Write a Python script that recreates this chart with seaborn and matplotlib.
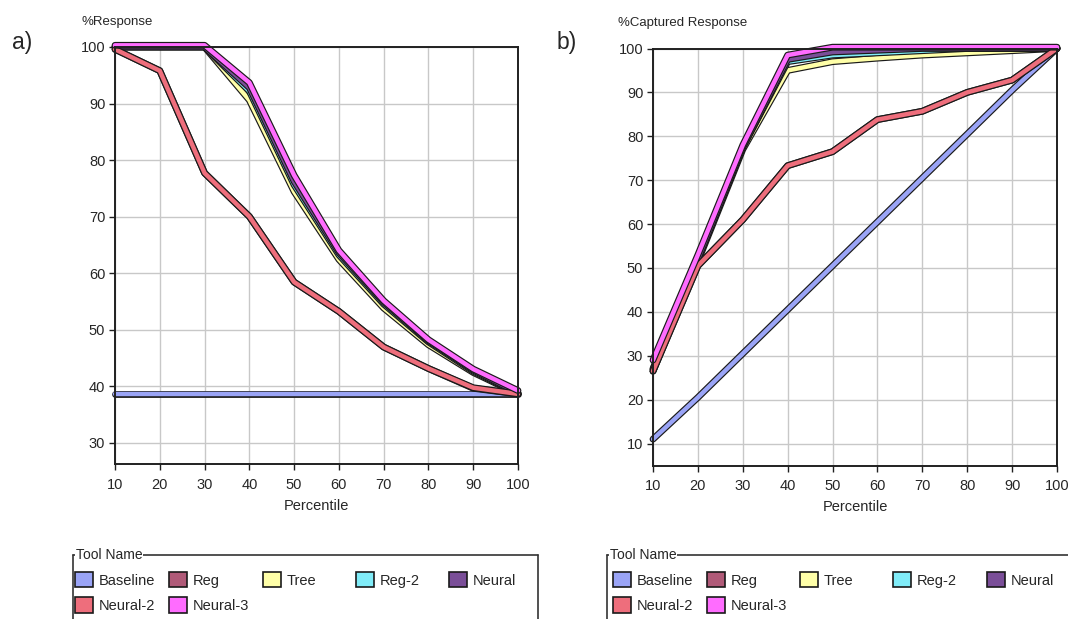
import pandas as pd
import matplotlib
matplotlib.use("Agg")
from matplotlib import pyplot as plt
import matplotlib.patheffects as pe
from matplotlib.patches import Patch
from matplotlib.lines import Line2D
import seaborn as sns

percentile = [10, 20, 30, 40, 50, 60, 70, 80, 90, 100]
tools = ['Baseline', 'Reg', 'Tree', 'Reg-2', 'Neural', 'Neural-2', 'Neural-3']
tool_colors = ['#9AA4F6', '#B05A78', '#FFFFA8', '#80ECF8', '#7A4E98', '#EE6E7C', '#FF6CFF']

# a) %Response
resp_baseline = [38.6, 38.6, 38.6, 38.6, 38.6, 38.6, 38.6, 38.6, 38.6, 38.6]
resp_reg = [99.6, 95.8, 77.7, 70.0, 58.4, 53.2, 46.9, 43.1, 39.6, 38.6]
resp_tree = [100.0, 100.0, 100.0, 90.6, 74.4, 62.4, 53.8, 47.3, 42.4, 38.6]
resp_reg2 = [100.0, 100.0, 100.0, 92.2, 75.6, 63.2, 54.5, 47.8, 42.6, 38.7]
resp_neural = [100.0, 100.0, 100.0, 92.8, 76.2, 63.6, 54.8, 48.0, 42.8, 38.8]
resp_neural2 = [99.6, 95.8, 77.7, 70.0, 58.4, 53.2, 46.9, 43.1, 39.7, 38.6]
resp_neural3 = [100.3, 100.3, 100.3, 93.7, 77.3, 64.0, 55.1, 48.2, 43.0, 39.2]

# b) %Captured Response
capt_baseline = [11.0, 20.5, 30.5, 40.5, 50.5, 60.5, 70.5, 80.5, 90.5, 100.0]
capt_reg = [26.5, 50.5, 61.0, 73.3, 76.5, 83.8, 85.7, 90.0, 92.8, 100.0]
capt_tree = [26.5, 51.5, 77.0, 95.0, 97.0, 97.8, 98.5, 99.0, 99.5, 100.0]
capt_reg2 = [27.0, 52.0, 77.5, 97.0, 98.5, 99.0, 99.5, 100.0, 100.0, 100.0]
capt_neural = [27.0, 52.0, 77.5, 97.5, 99.2, 99.6, 100.0, 100.0, 100.0, 100.0]
capt_neural2 = [26.5, 50.5, 61.0, 73.3, 76.5, 83.8, 85.7, 90.0, 92.8, 100.0]
capt_neural3 = [29.0, 53.0, 78.0, 98.5, 100.3, 100.3, 100.3, 100.3, 100.3, 100.3]


def long_table(series):
    rows = []
    for name, vals in zip(tools, series):
        for p, v in zip(percentile, vals):
            rows.append({'Percentile': p, 'value': v, 'Tool Name': name})
    return pd.DataFrame(rows)


df_resp = long_table([resp_baseline, resp_reg, resp_tree, resp_reg2,
                      resp_neural, resp_neural2, resp_neural3])
df_capt = long_table([capt_baseline, capt_reg, capt_tree, capt_reg2,
                      capt_neural, capt_neural2, capt_neural3])

sns.set_style('white')
plt.rcParams['font.family'] = ['Liberation Sans', 'DejaVu Sans']

W, H = 1068, 619
fig = plt.figure(figsize=(W / 100, H / 100), dpi=100)


def px_axes(x0, y0, x1, y1):
    return fig.add_axes([x0 / W, 1 - y1 / H, (x1 - x0) / W, (y1 - y0) / H])


ax_a = px_axes(115, 47, 518, 464)
ax_b = px_axes(653, 48.5, 1057, 465.5)

outline = [pe.Stroke(linewidth=4.9, foreground='#1a1a1a'), pe.Normal()]

for ax, data, ylim, yticks in [(ax_a, df_resp, (26.2, 100), range(30, 101, 10)),
                               (ax_b, df_capt, (5, 100), range(10, 101, 10))]:
    sns.lineplot(data=data, x='Percentile', y='value', hue='Tool Name',
                 hue_order=tools, palette=tool_colors, linewidth=3.2,
                 path_effects=outline, clip_on=False, legend=False,
                 errorbar=None, sort=False, ax=ax)
    ax.set_xlim(10, 100)
    ax.set_ylim(*ylim)
    ax.set_xticks(percentile)
    ax.set_yticks(list(yticks))
    ax.grid(True, color='#c8c8c8', linewidth=1)
    ax.set_axisbelow(True)
    for s in ax.spines.values():
        s.set_color('#202020')
        s.set_linewidth(1.4)
    ax.tick_params(axis='both', direction='out', length=4, width=1,
                   color='#202020', labelsize=10.5, bottom=True, left=True)
    ax.tick_params(axis='x', pad=6)
    ax.tick_params(axis='y', pad=3)
    ax.set_xlabel('Percentile', fontsize=10.5, labelpad=5)
    ax.set_ylabel('')

fig.text(82 / W, 1 - 22 / H, '%Response', fontsize=9.5, va='center', ha='left')
fig.text(618 / W, 1 - 23 / H, '%Captured Response', fontsize=9.5, va='center', ha='left')
fig.text(12 / W, 1 - 43 / H, 'a)', fontsize=16.5, va='center', ha='left')
fig.text(557 / W, 1 - 42 / H, 'b)', fontsize=16.5, va='center', ha='left')

# legend boxes
handles = [Patch(facecolor=c, edgecolor='#1a1a1a', linewidth=1.2) for c in tool_colors]
col_groups = [[0, 5], [1, 6], [2], [3], [4]]


def legend_box(x0, x1, col_x):
    y_top = 555
    line_kw = dict(color='#333333', linewidth=1.2, transform=fig.transFigure)
    fig.add_artist(Line2D([x0 / W, x0 / W], [1 - y_top / H, 0], **line_kw))
    fig.add_artist(Line2D([x0 / W, x1 / W], [1 - y_top / H, 1 - y_top / H], **line_kw))
    if x1 < W:
        fig.add_artist(Line2D([x1 / W, x1 / W], [1 - y_top / H, 0], **line_kw))
    fig.text((x0 + 3) / W, 1 - y_top / H, 'Tool Name', fontsize=10, va='center',
             ha='left', bbox=dict(facecolor='white', edgecolor='none', pad=0.5))
    for cx, grp in zip(col_x, col_groups):
        fig.legend(handles=[handles[i] for i in grp], labels=[tools[i] for i in grp],
                   loc='upper left', bbox_to_anchor=(cx / W, 1 - 572 / H),
                   frameon=False, borderpad=0, borderaxespad=0,
                   handlelength=1.25, handleheight=1.25, handletextpad=0.4,
                   labelspacing=0.65, fontsize=10.5)


legend_box(73, 538, [75, 169, 263, 356, 449])
legend_box(607, 1080, [613, 707, 800, 893, 987])

fig.savefig('out.png', dpi=100)
